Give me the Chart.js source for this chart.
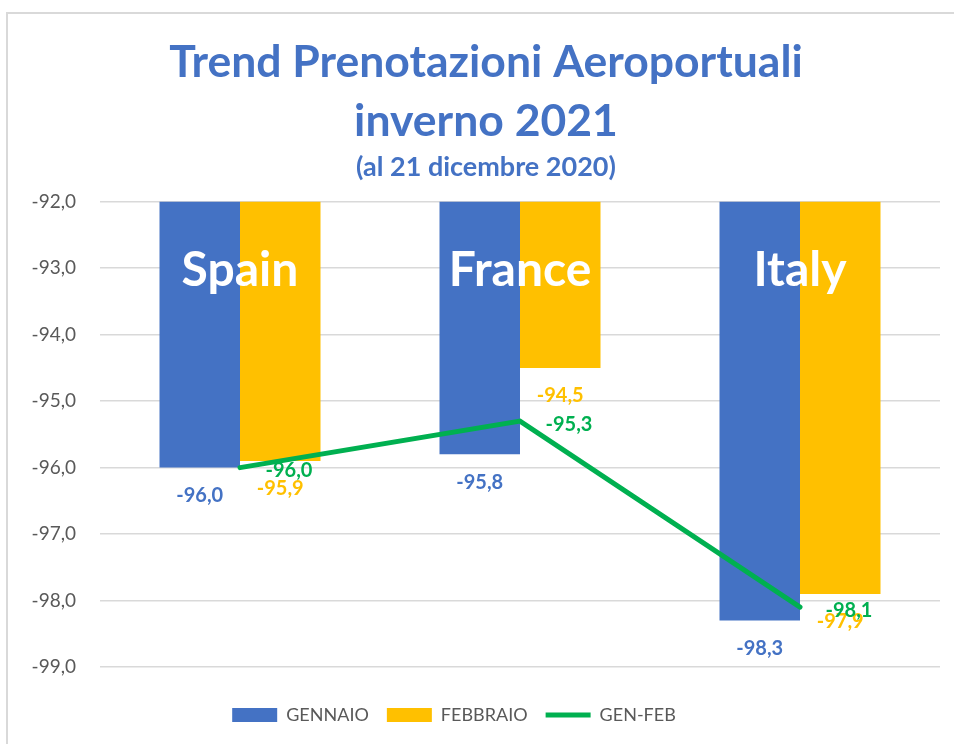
<!DOCTYPE html>
<html>
<head>
<meta charset="utf-8">
<script src="https://cdn.jsdelivr.net/npm/chart.js@4/dist/chart.umd.min.js"></script>
<style>
  html, body { margin: 0; padding: 0; background: #fff; }
  #wrap { position: relative; width: 954px; height: 744px; overflow: hidden; }
  #frame { position: absolute; left: 6px; top: 12px; width: 1000px; height: 800px;
           border-left: 2px solid #d9d9d9; border-top: 2px solid #d9d9d9; box-sizing: border-box; }
  canvas { position: absolute; left: 0; top: 0; }
</style>
</head>
<body>
<div id="wrap">
  <div id="frame"></div>
  <canvas id="c" width="954" height="744"></canvas>
</div>
<script>
const categories = ["Spain", "France", "Italy"];
const gennaio = [-96.0, -95.8, -98.3];
const febbraio = [-95.9, -94.5, -97.9];
const genFeb = [-96.0, -95.3, -98.1];
const yTicks = [-92, -93, -94, -95, -96, -97, -98, -99];
const titleLines = ["Trend Prenotazioni Aeroportuali", "inverno 2021"];
const subtitleText = "(al 21 dicembre 2020)";

const BLUE = "#4472C4", YELLOW = "#FFC000", GREEN = "#00B050", GREY = "#595959";
const FONT = "Lato";
const fmt = v => v.toFixed(1).replace(".", ",");

const labelsPlugin = {
  id: "valueLabels",
  afterLayout(chart) {
    chart.boxes.forEach(b => {
      if (b === chart.titleBlock || (b.options && b.options.text === subtitleText)) {
        b.left += 16; b.right += 16;
      } else if (b === chart.legend) {
        b.left -= 16; b.right -= 16;
      }
    });
  },
  afterDatasetsDraw(chart) {
    const ctx = chart.ctx;
    ctx.save();
    ctx.font = "bold 20px " + FONT;
    ctx.textAlign = "center";
    ctx.textBaseline = "middle";
    chart.data.datasets.forEach((ds, di) => {
      const meta = chart.getDatasetMeta(di);
      meta.data.forEach((el, i) => {
        const v = ds.data[i];
        ctx.fillStyle = ds.labelColor;
        if (ds.type === "line") {
          ctx.fillText(fmt(v), el.x + 49, el.y + 3);
        } else {
          ctx.fillText(fmt(v), el.x, el.y + 28);
        }
      });
    });
    // category names inside bars
    const xs = chart.scales.x, ys = chart.scales.y;
    ctx.font = "bold 48px " + FONT;
    ctx.fillStyle = "#ffffff";
    categories.forEach((c, i) => {
      ctx.fillText(c, xs.getPixelForValue(i), ys.getPixelForValue(-93) + 2);
    });
    ctx.restore();
  }
};

const chart = new Chart(document.getElementById("c"), {
  data: {
    labels: categories,
    datasets: [
      { type: "bar", label: "GENNAIO", data: gennaio, backgroundColor: BLUE, labelColor: BLUE,
        borderWidth: 0, order: 1, pointStyle: "rect", categoryPercentage: 0.575, barPercentage: 1.0 },
      { type: "bar", label: "FEBBRAIO", data: febbraio, backgroundColor: YELLOW, labelColor: YELLOW,
        borderWidth: 0, order: 1, pointStyle: "rect", categoryPercentage: 0.575, barPercentage: 1.0 },
      { type: "line", label: "GEN-FEB", data: genFeb, borderColor: GREEN, backgroundColor: GREEN, labelColor: GREEN,
        borderWidth: 5, borderCapStyle: "round", pointRadius: 0, pointHoverRadius: 0, pointStyle: "line",
        tension: 0, order: 0 }
    ]
  },
  options: {
    responsive: false,
    animation: false,
    layout: { padding: { left: 0, right: 14, top: 0, bottom: 10 } },
    scales: {
      x: {
        display: true, offset: true,
        grid: { display: false }, border: { display: false },
        ticks: { display: false },
        afterFit: s => { s.height = 21; }
      },
      y: {
        min: -99, max: -92,
        afterBuildTicks: s => { s.ticks = yTicks.map(v => ({ value: v })); },
        afterFit: s => { s.width = 100; },
        border: { display: false },
        grid: { color: "#d9d9d9", lineWidth: 1.5, drawTicks: false },
        ticks: { padding: 24, color: GREY, font: { family: FONT, size: 19 }, callback: v => fmt(v) }
      }
    },
    plugins: {
      tooltip: { enabled: false },
      title: {
        display: true, text: titleLines, color: BLUE,
        font: { family: FONT, size: 44.5, weight: "bold", lineHeight: 1.33 },
        padding: { top: 33, bottom: 0 }
      },
      subtitle: {
        display: true, text: subtitleText, color: BLUE,
        font: { family: FONT, size: 27, weight: "bold", lineHeight: 1.2 },
        padding: { top: 0, bottom: 18 }
      },
      legend: {
        position: "bottom",
        labels: {
          usePointStyle: true, pointStyleWidth: 45, boxHeight: 14,
          color: GREY, font: { family: FONT, size: 18 }, padding: 18,
          sort: (a, b) => a.datasetIndex - b.datasetIndex
        }
      }
    }
  },
  plugins: [labelsPlugin]
});
</script>
</body>
</html>
